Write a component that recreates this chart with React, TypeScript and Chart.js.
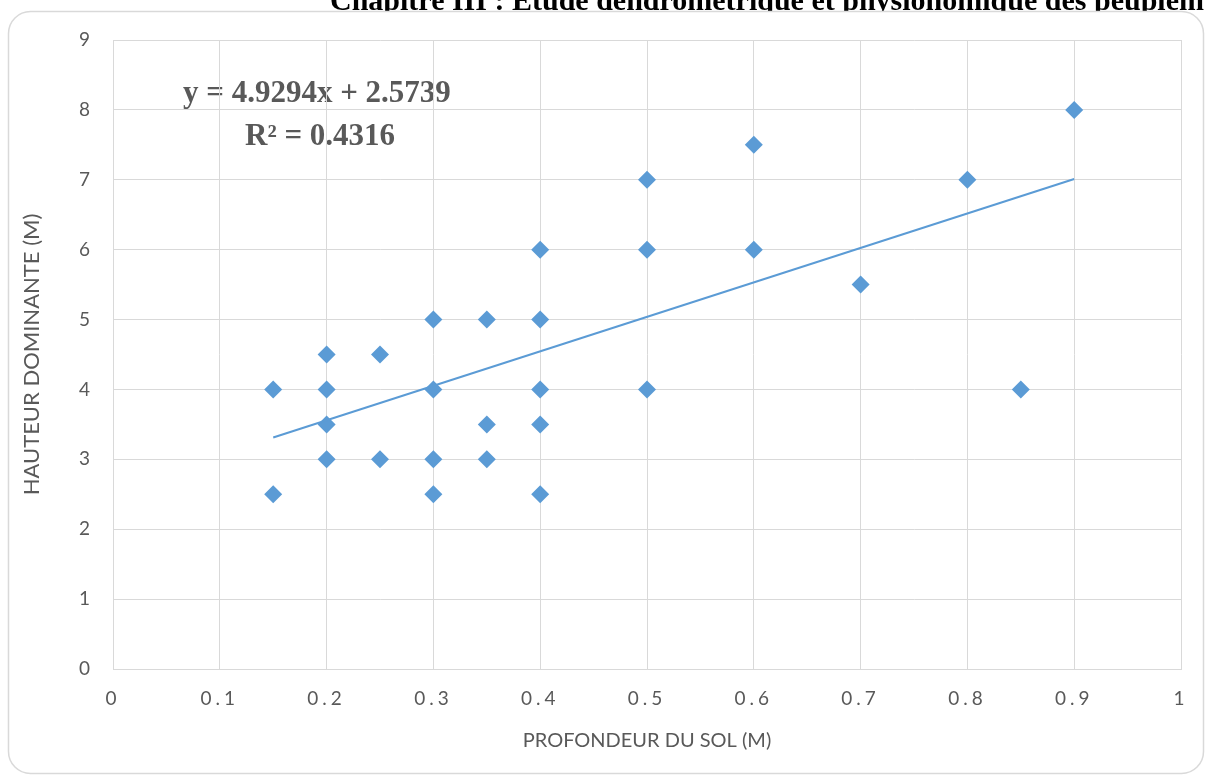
import React, { useEffect, useRef } from "react";
import { Chart, registerables } from "chart.js";

Chart.register(...registerables);

// Data
const soilDepth: number[] = [
  0.15, 0.15,
  0.2, 0.2, 0.2, 0.2,
  0.25, 0.25,
  0.3, 0.3, 0.3, 0.3,
  0.35, 0.35, 0.35,
  0.4, 0.4, 0.4, 0.4, 0.4,
  0.5, 0.5, 0.5,
  0.6, 0.6,
  0.7,
  0.8,
  0.85,
  0.9,
];
const dominantHeight: number[] = [
  4, 2.5,
  4.5, 4, 3.5, 3,
  4.5, 3,
  5, 4, 3, 2.5,
  5, 3.5, 3,
  6, 5, 4, 3.5, 2.5,
  7, 6, 4,
  7.5, 6,
  5.5,
  7,
  4,
  8,
];
const trendSlope = 4.9294;
const trendIntercept = 2.5739;
const trendRange: number[] = [0.15, 0.9];
const xTickLabels: string[] = ["0", "0.1", "0.2", "0.3", "0.4", "0.5", "0.6", "0.7", "0.8", "0.9", "1"];
const yTickLabels: string[] = ["0", "1", "2", "3", "4", "5", "6", "7", "8", "9"];
const equationText = "y = 4.9294x + 2.5739";
const r2Text = "R² = 0.4316";
const pageHeading = "Chapitre III : Etude dendrométrique et physionomique des peuplements";
const xTitle = "PROFONDEUR DU SOL (M)";
const yTitle = "HAUTEUR DOMINANTE (M)";

const BLUE = "#5b9bd5";
const GRID = "#d9d9d9";
const TEXT = "#595959";
const SANS = "Lato, 'Open Sans', sans-serif";
const SERIF = "'Liberation Serif', 'Times New Roman', serif";

export default function App() {
  const ref = useRef<HTMLCanvasElement | null>(null);

  useEffect(() => {
    document.body.style.margin = "0";
    const canvas = ref.current;
    if (!canvas) return;

    const scatterPoints = soilDepth.map((x, i) => ({ x, y: dominantHeight[i] }));
    const trendPoints = trendRange.map((x) => ({ x, y: trendSlope * x + trendIntercept }));

    const decor = {
      id: "decor",
      beforeDraw(chart: any) {
        const ctx = chart.ctx as CanvasRenderingContext2D;
        // spaced-out x tick labels, as in the reference
        const xs = chart.scales.x;
        if (xs && !xs.__spaced) {
          const orig = xs.drawLabels.bind(xs);
          xs.drawLabels = (area: any) => {
            ctx.save();
            (ctx as any).letterSpacing = "4px";
            orig(area);
            ctx.restore();
          };
          xs.__spaced = true;
        }
        ctx.save();
        ctx.fillStyle = "#ffffff";
        ctx.fillRect(0, 0, chart.width, chart.height);
        // document heading (cropped at the top, hidden under the frame)
        ctx.fillStyle = "#000000";
        ctx.font = `bold 30px ${SERIF}`;
        ctx.textBaseline = "alphabetic";
        ctx.textAlign = "left";
        ctx.fillText(pageHeading, 330, 10);
        // outer rounded frame
        ctx.beginPath();
        (ctx as any).roundRect(8.5, 11.5, 1195, 762, 22);
        ctx.fillStyle = "#ffffff";
        ctx.fill();
        ctx.strokeStyle = GRID;
        ctx.lineWidth = 1.5;
        ctx.stroke();
        // trendline equation
        ctx.fillStyle = TEXT;
        ctx.font = `bold 31px ${SERIF}`;
        ctx.fillText(equationText, 183, 102);
        ctx.fillText(r2Text, 245, 145);
        ctx.restore();
      },
    };

    const chart = new Chart(canvas, {
      type: "scatter",
      data: {
        datasets: [
          {
            type: "line",
            label: "trend",
            data: trendPoints,
            borderColor: BLUE,
            borderWidth: 2,
            pointRadius: 0,
            fill: false,
          } as any,
          {
            label: "points",
            data: scatterPoints,
            pointStyle: "rectRot",
            pointRadius: 9,
            pointHoverRadius: 9,
            backgroundColor: BLUE,
            borderColor: BLUE,
            borderWidth: 0,
          },
        ],
      },
      options: {
        responsive: false,
        animation: false,
        layout: { padding: { left: 0, right: 24, top: 40, bottom: 0 } },
        plugins: {
          legend: { display: false },
          tooltip: { enabled: false },
        },
        scales: {
          x: {
            type: "linear",
            min: 0,
            max: 1,
            afterFit(scale: any) {
              scale.height = 107;
            },
            ticks: {
              stepSize: 0.1,
              padding: 18,
              color: TEXT,
              font: { family: SANS, size: 19 },
              maxRotation: 0,
              callback: (_v: any, i: number) => xTickLabels[i],
            },
            grid: { color: GRID, lineWidth: 1, drawTicks: false },
            border: { color: GRID, width: 1 },
            title: {
              display: true,
              text: xTitle,
              color: TEXT,
              font: { family: SANS, size: 20 },
              padding: { top: 0, bottom: 23 },
            },
          },
          y: {
            type: "linear",
            min: 0,
            max: 9,
            afterFit(scale: any) {
              scale.width = 113;
            },
            ticks: {
              stepSize: 1,
              padding: 23,
              color: TEXT,
              font: { family: SANS, size: 19 },
              callback: (_v: any, i: number) => yTickLabels[i],
            },
            grid: { color: GRID, lineWidth: 1, drawTicks: false },
            border: { color: GRID, width: 1 },
            title: {
              display: true,
              text: yTitle,
              color: TEXT,
              font: { family: SANS, size: 22 },
              padding: { top: 19, bottom: 0 },
            },
          },
        },
      },
      plugins: [decor],
    });

    return () => chart.destroy();
  }, []);

  return (
    <canvas
      ref={ref}
      width={1205}
      height={776}
      style={{ display: "block", width: 1205, height: 776 }}
    />
  );
}
